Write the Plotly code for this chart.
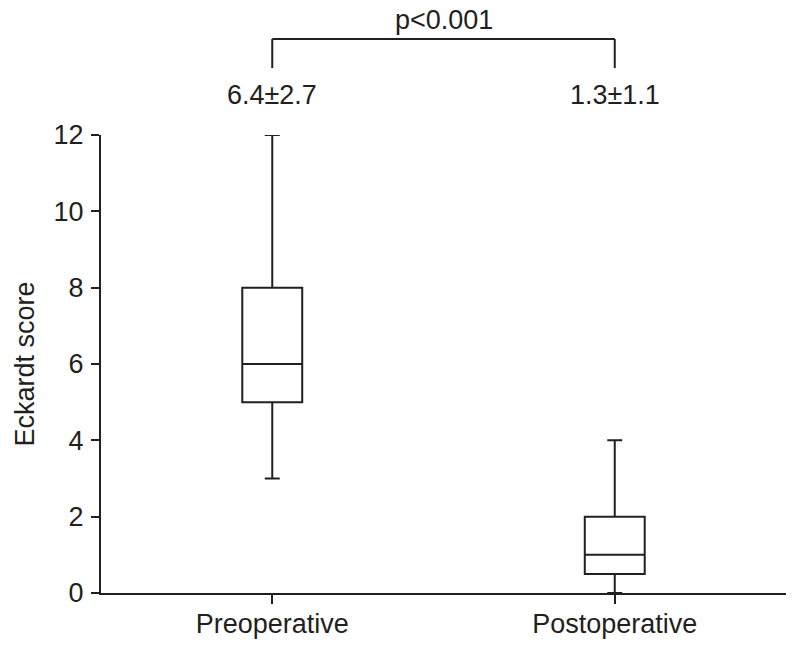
import plotly.graph_objects as go

categories = ["Preoperative", "Postoperative"]
q1 = [5, 0.5]
median = [6, 1]
q3 = [8, 2]
lower = [3, 0]
upper = [12, 4]
mean_sd_labels = ["6.4±2.7", "1.3±1.1"]
p_label = "p<0.001"
y_ticks = [0, 2, 4, 6, 8, 10, 12]

LINE = "#231f20"
FONT = "Liberation Sans, Arial, sans-serif"
FS = 27

fig = go.Figure()
for i, c in enumerate(categories):
    fig.add_trace(go.Box(
        x=[c], q1=[q1[i]], median=[median[i]], q3=[q3[i]],
        lowerfence=[lower[i]], upperfence=[upper[i]],
        width=0.175, whiskerwidth=0.25,
        fillcolor="rgba(0,0,0,0)",
        line=dict(color=LINE, width=2),
        boxpoints=False, showlegend=False, hoverinfo="skip",
    ))

shapes = [
    dict(type="line", xref="x", yref="paper", x0=categories[0], x1=categories[1],
         y0=1.2096, y1=1.2096, line=dict(color=LINE, width=2)),
    dict(type="line", xref="x", yref="paper", x0=categories[0], x1=categories[0],
         y0=1.2096, y1=1.146, line=dict(color=LINE, width=2)),
    dict(type="line", xref="x", yref="paper", x0=categories[1], x1=categories[1],
         y0=1.2096, y1=1.146, line=dict(color=LINE, width=2)),
]

annotations = [
    dict(x=c, y=1.087, xref="x", yref="paper", text=t, showarrow=False,
         font=dict(size=FS, color=LINE, family=FONT), yanchor="middle")
    for c, t in zip(categories, mean_sd_labels)
]
annotations.append(dict(x=0.5, y=1.252, xref="x", yref="paper", text=p_label,
                        showarrow=False, font=dict(size=FS, color=LINE, family=FONT),
                        yanchor="middle"))

fig.update_layout(
    width=795, height=647,
    margin=dict(l=101, r=9, t=135, b=54, autoexpand=False),
    paper_bgcolor="white", plot_bgcolor="white",
    font=dict(family=FONT, size=FS, color=LINE),
    shapes=shapes, annotations=annotations,
    xaxis=dict(type="category", range=[-0.5, 1.5], showline=True, linecolor=LINE,
               linewidth=2, ticks="outside", ticklen=9, tickwidth=2, tickcolor=LINE,
               showgrid=False, zeroline=False, tickfont=dict(size=FS), automargin=False,
               ticklabelstandoff=-3),
    yaxis=dict(range=[0, 12], tickvals=y_ticks, showline=True, linecolor=LINE,
               linewidth=2, ticks="outside", ticklen=8, tickwidth=2, tickcolor=LINE,
               showgrid=False, zeroline=False, tickfont=dict(size=FS), automargin=False,
               ticklabelstandoff=2,
               title=dict(text="Eckardt score", font=dict(size=FS), standoff=11)),
)

fig.write_html("out.html", config={"displayModeBar": False},
               post_script="document.body.style.margin='0';document.body.style.overflow='hidden';")
